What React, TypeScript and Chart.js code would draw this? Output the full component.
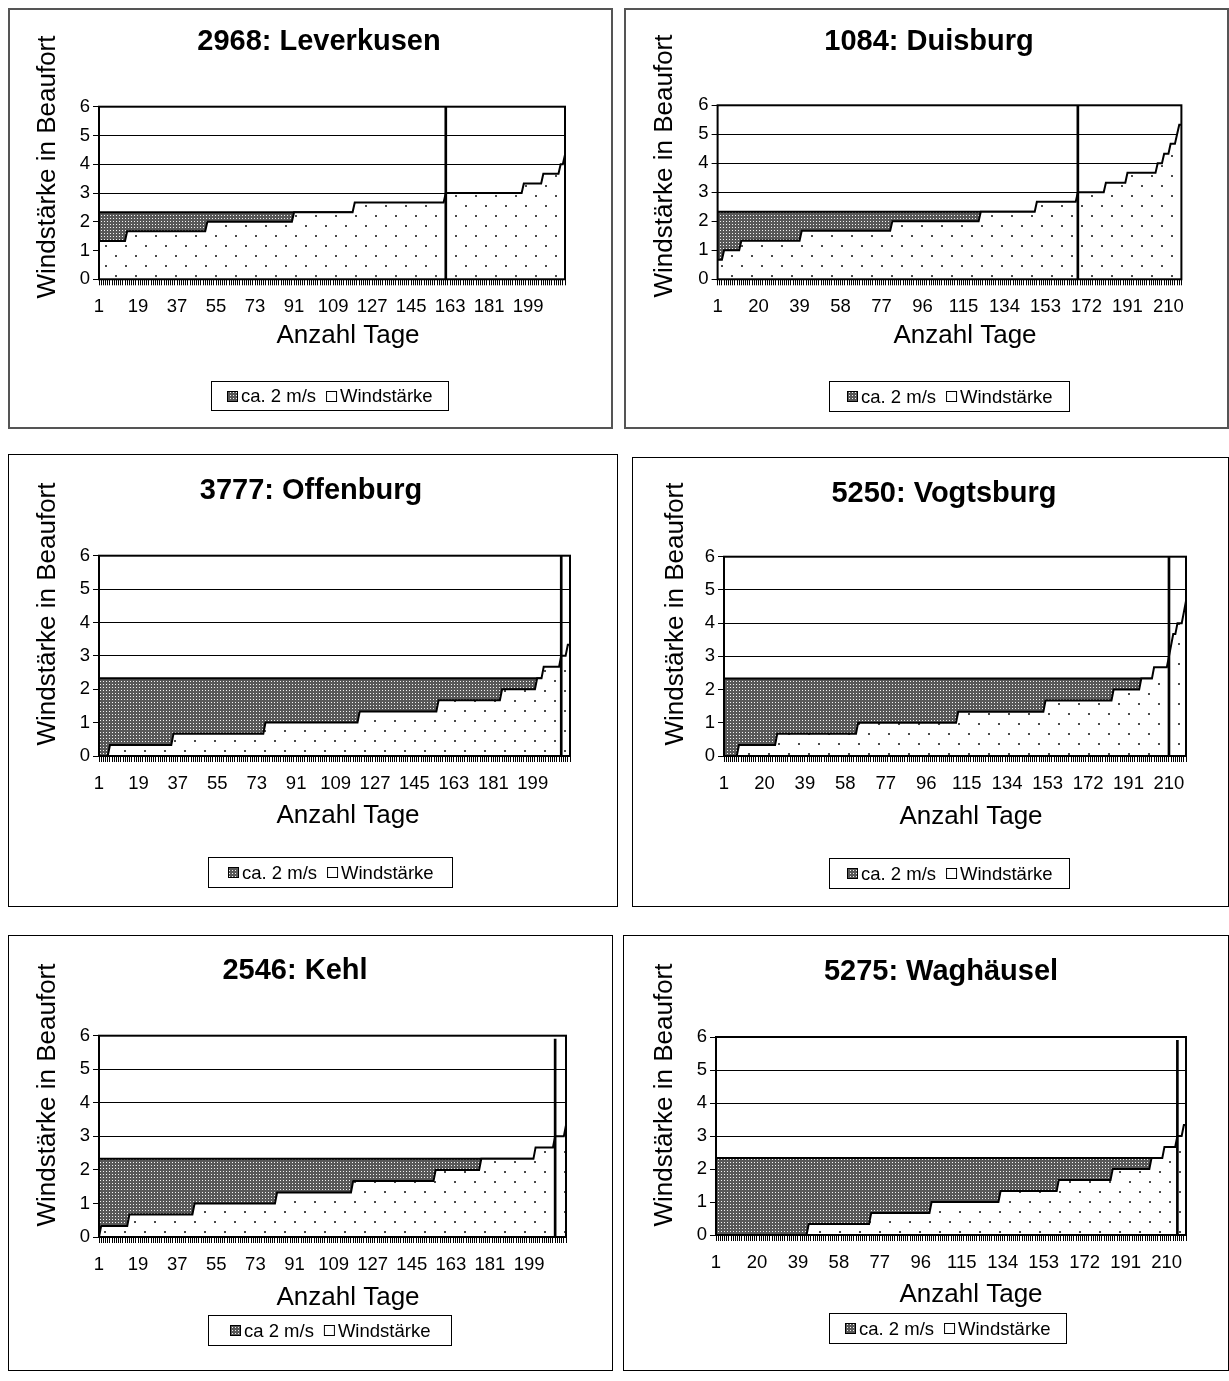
import React, { useEffect, useRef } from 'react';
import { Chart, registerables } from 'chart.js';

Chart.register(...registerables);

const FONT = "'Liberation Sans', Arial, Helvetica, sans-serif";
Chart.defaults.font.family = FONT;
Chart.defaults.color = '#000';

// ---------- shared texts / values ----------
const Y_AXIS_TITLE = 'Windstärke in Beaufort';
const X_AXIS_TITLE = 'Anzahl Tage';
const WIND_LABEL = 'Windstärke';
const Y_MIN = 0;
const Y_MAX = 6;
const CA2_LEVEL = 2.33; // "ca. 2 m/s" threshold in Beaufort

const TICKS_18 = ['1', '19', '37', '55', '73', '91', '109', '127', '145', '163', '181', '199'];
const TICKS_19 = ['1', '20', '39', '58', '77', '96', '115', '134', '153', '172', '191', '210'];

// ---------- 2968: Leverkusen ----------
const LEV_TITLE = '2968: Leverkusen';
const LEV_CA_LABEL = 'ca. 2 m/s';
const LEV_LEVELS = [1.33, 1.67, 2, 2.33, 2.67, 3, 3.33, 3.67, 4, 4.33];
const LEV_DAYS = [13, 37, 40, 28, 42, 36, 9, 8, 2, 1];
const LEV_TICKS = TICKS_18;
const LEV_MARK_DAY = 161;
const LEV_MARK_TOP = 6;

// ---------- 1084: Duisburg ----------
const DUI_TITLE = '1084: Duisburg';
const DUI_CA_LABEL = 'ca. 2 m/s';
const DUI_LEVELS = [0.67, 1, 1.33, 1.67, 2, 2.33, 2.67, 3, 3.33, 3.67, 4, 4.33, 4.67, 5, 5.33];
const DUI_DAYS = [3, 8, 28, 42, 41, 26, 19, 13, 10, 14, 3, 3, 3, 1, 2];
const DUI_TICKS = TICKS_19;
const DUI_MARK_DAY = 168;
const DUI_MARK_TOP = 6;

// ---------- 3777: Offenburg ----------
const OFF_TITLE = '3777: Offenburg';
const OFF_CA_LABEL = 'ca. 2 m/s';
const OFF_LEVELS = [0, 0.33, 0.67, 1, 1.33, 1.67, 2, 2.33, 2.67, 3, 3.33];
const OFF_DAYS = [5, 29, 42, 43, 36, 29, 16, 3, 8, 3, 2];
const OFF_TICKS = TICKS_18;
const OFF_MARK_DAY = 212;
const OFF_MARK_TOP = 6;

// ---------- 5250: Vogtsburg ----------
const VOG_TITLE = '5250: Vogtsburg';
const VOG_CA_LABEL = 'ca. 2 m/s';
const VOG_LEVELS = [0, 0.33, 0.67, 1, 1.33, 1.67, 2, 2.33, 2.67, 3, 3.33, 3.67, 4, 4.33, 4.67];
const VOG_DAYS = [7, 18, 38, 47, 41, 32, 13, 6, 7, 1, 1, 2, 3, 1, 1];
const VOG_TICKS = TICKS_19;
const VOG_MARK_DAY = 210;
const VOG_MARK_TOP = 6;

// ---------- 2546: Kehl ----------
const KEH_TITLE = '2546: Kehl';
const KEH_CA_LABEL = 'ca 2 m/s';
const KEH_LEVELS = [0, 0.33, 0.67, 1, 1.33, 1.67, 2, 2.33, 2.67, 3, 3.33];
const KEH_DAYS = [1, 13, 30, 38, 35, 38, 21, 25, 9, 5, 1];
const KEH_TICKS = TICKS_18;
const KEH_MARK_DAY = 211;
const KEH_MARK_TOP = 5.9;

// ---------- 5275: Waghäusel ----------
const WAG_TITLE = '5275: Waghäusel';
const WAG_CA_LABEL = 'ca. 2 m/s';
const WAG_LEVELS = [0, 0.33, 0.67, 1, 1.33, 1.67, 2, 2.33, 2.67, 3, 3.33];
const WAG_DAYS = [43, 29, 28, 32, 27, 25, 18, 6, 6, 3, 2];
const WAG_TICKS = TICKS_19;
const WAG_MARK_DAY = 215;
const WAG_MARK_TOP = 5.9;

// ---------- layouts (page pixel coordinates) ----------
type Layout = {
  box: number[]; // x, y, w, h (outer)
  border: number;
  borderColor: string;
  plot: number[]; // left, top, right, bottom
  title: number[]; // cx, cy
  yTitle: number[];
  xTitle: number[];
  legend: number[]; // x, y, w, h
};

const LEV_LAYOUT: Layout = { box: [8, 8, 605, 421], border: 2, borderColor: '#555', plot: [99, 106.7, 565, 279.3], title: [319, 41.5], yTitle: [48, 167], xTitle: [348, 335.5], legend: [211, 381, 238, 30] };
const DUI_LAYOUT: Layout = { box: [624, 8, 605, 421], border: 2, borderColor: '#555', plot: [717.6, 105.3, 1181.4, 279.3], title: [929, 41.7], yTitle: [665, 166], xTitle: [965, 336], legend: [829, 381, 241, 31] };
const OFF_LAYOUT: Layout = { box: [8, 454, 610, 453], border: 1, borderColor: '#000', plot: [99, 555.7, 570, 756], title: [311, 491], yTitle: [48, 614], xTitle: [348, 816], legend: [208, 857, 245, 31] };
const VOG_LAYOUT: Layout = { box: [632, 457, 597, 450], border: 1, borderColor: '#000', plot: [724, 556.7, 1186, 756], title: [944, 494], yTitle: [676, 614], xTitle: [971, 817], legend: [829, 858, 241, 31] };
const KEH_LAYOUT: Layout = { box: [8, 935, 605, 436], border: 1, borderColor: '#000', plot: [99, 1035.7, 566, 1237], title: [295, 971], yTitle: [48, 1095], xTitle: [348, 1298], legend: [208, 1315, 244, 31] };
const WAG_LAYOUT: Layout = { box: [623, 935, 606, 436], border: 1, borderColor: '#000', plot: [716, 1037, 1186, 1235], title: [941, 972], yTitle: [665, 1095], xTitle: [971, 1295], legend: [829, 1313, 238, 31] };

type Station = {
  title: string;
  caLabel: string;
  levels: number[];
  days: number[];
  ticks: string[];
  markDay: number;
  markTop: number;
  layout: Layout;
};

const STATIONS: Station[] = [
  { title: LEV_TITLE, caLabel: LEV_CA_LABEL, levels: LEV_LEVELS, days: LEV_DAYS, ticks: LEV_TICKS, markDay: LEV_MARK_DAY, markTop: LEV_MARK_TOP, layout: LEV_LAYOUT },
  { title: DUI_TITLE, caLabel: DUI_CA_LABEL, levels: DUI_LEVELS, days: DUI_DAYS, ticks: DUI_TICKS, markDay: DUI_MARK_DAY, markTop: DUI_MARK_TOP, layout: DUI_LAYOUT },
  { title: OFF_TITLE, caLabel: OFF_CA_LABEL, levels: OFF_LEVELS, days: OFF_DAYS, ticks: OFF_TICKS, markDay: OFF_MARK_DAY, markTop: OFF_MARK_TOP, layout: OFF_LAYOUT },
  { title: VOG_TITLE, caLabel: VOG_CA_LABEL, levels: VOG_LEVELS, days: VOG_DAYS, ticks: VOG_TICKS, markDay: VOG_MARK_DAY, markTop: VOG_MARK_TOP, layout: VOG_LAYOUT },
  { title: KEH_TITLE, caLabel: KEH_CA_LABEL, levels: KEH_LEVELS, days: KEH_DAYS, ticks: KEH_TICKS, markDay: KEH_MARK_DAY, markTop: KEH_MARK_TOP, layout: KEH_LAYOUT },
  { title: WAG_TITLE, caLabel: WAG_CA_LABEL, levels: WAG_LEVELS, days: WAG_DAYS, ticks: WAG_TICKS, markDay: WAG_MARK_DAY, markTop: WAG_MARK_TOP, layout: WAG_LAYOUT },
];

// ---------- helpers ----------
function expandRuns(levels: number[], days: number[]): number[] {
  const out: number[] = [];
  levels.forEach((v, i) => {
    for (let k = 0; k < days[i]; k++) out.push(v);
  });
  return out;
}

function makeDotPattern(ctx: CanvasRenderingContext2D) {
  const c = document.createElement('canvas');
  c.width = 20;
  c.height = 20;
  const g = c.getContext('2d')!;
  g.fillStyle = '#fff';
  g.fillRect(0, 0, 20, 20);
  g.fillStyle = '#4a4a4a';
  g.fillRect(5, 5, 2, 2);
  g.fillRect(15, 15, 2, 2);
  return ctx.createPattern(c, 'repeat')!;
}

function makeCheckerPattern(ctx: CanvasRenderingContext2D) {
  const c = document.createElement('canvas');
  c.width = 3;
  c.height = 3;
  const g = c.getContext('2d')!;
  g.fillStyle = '#585858';
  g.fillRect(0, 0, 3, 3);
  g.fillStyle = '#f4f4f4';
  g.fillRect(1, 1, 1, 1);
  return ctx.createPattern(c, 'repeat')!;
}

function Panel({ st }: { st: Station }) {
  const ref = useRef<HTMLCanvasElement>(null);
  const L = st.layout;
  const [bx, by, bw, bh] = L.box;
  const b = L.border;
  const cw = bw - 2 * b;
  const ch = bh - 2 * b;

  useEffect(() => {
    const canvas = ref.current!;
    const ctx = canvas.getContext('2d')!;
    const ox = bx + b;
    const oy = by + b;
    const left = L.plot[0] - ox;
    const top = L.plot[1] - oy;
    const right = L.plot[2] - ox;
    const bottom = L.plot[3] - oy;
    const XH = 40;
    const TICK_FS = 18.5;
    const TICK_LEN = 6;

    const wind = expandRuns(st.levels, st.days);
    const labels = wind.map((_, i) => String(i + 1));
    const ca = labels.map(() => CA2_LEVEL);
    const mark = labels.map((d) => (Number(d) === st.markDay ? st.markTop : null));
    const tickSet = new Set(st.ticks);

    const dotPat = makeDotPattern(ctx);
    const chkPat = makeCheckerPattern(ctx);

    const borderPlugin = {
      id: 'plotBorder',
      afterDatasetsDraw(chart: any) {
        const a = chart.chartArea;
        const c = chart.ctx;
        c.save();
        c.strokeStyle = '#000';
        c.lineWidth = 2;
        c.strokeRect(a.left, a.top, a.right - a.left, a.bottom - a.top);
        c.restore();
      },
    };

    const decorPlugin = {
      id: 'panelDecor',
      afterDraw(chart: any) {
        const c: CanvasRenderingContext2D = chart.ctx;
        c.save();
        c.fillStyle = '#000';
        c.textAlign = 'center';
        c.textBaseline = 'middle';
        // title
        c.font = `bold 29px ${FONT}`;
        c.fillText(st.title, L.title[0] - ox, L.title[1] - oy);
        // axis titles
        c.font = `26px ${FONT}`;
        c.fillText(X_AXIS_TITLE, L.xTitle[0] - ox, L.xTitle[1] - oy);
        c.save();
        c.translate(L.yTitle[0] - ox, L.yTitle[1] - oy);
        c.rotate(-Math.PI / 2);
        c.fillText(Y_AXIS_TITLE, 0, 0);
        c.restore();
        // legend
        const lx = L.legend[0] - ox;
        const ly = L.legend[1] - oy;
        const lw = L.legend[2];
        const lh = L.legend[3];
        c.lineWidth = 1;
        c.strokeStyle = '#000';
        c.strokeRect(Math.round(lx) + 0.5, Math.round(ly) + 0.5, lw - 1, lh - 1);
        c.font = `18.5px ${FONT}`;
        const t1 = st.caLabel;
        const t2 = WIND_LABEL;
        const w1 = c.measureText(t1).width;
        const w2 = c.measureText(t2).width;
        const SW = 11;
        const G = 3;
        const GAP = 10;
        const total = SW + G + w1 + GAP + SW + G + w2;
        let x = Math.round(lx + (lw - total) / 2);
        const cy = ly + lh / 2;
        const sy = Math.round(cy - SW / 2);
        c.fillStyle = chkPat;
        c.fillRect(x, sy, SW, SW);
        c.strokeRect(x + 0.5, sy + 0.5, SW - 1, SW - 1);
        x += SW + G;
        c.fillStyle = '#000';
        c.textAlign = 'left';
        c.fillText(t1, x, cy + 1);
        x += w1 + GAP;
        c.fillStyle = '#fff';
        c.fillRect(x, sy, SW, SW);
        c.strokeRect(x + 0.5, sy + 0.5, SW - 1, SW - 1);
        x += SW + G;
        c.fillStyle = '#000';
        c.fillText(t2, x, cy + 1);
        c.restore();
      },
    };

    const chart = new Chart(canvas, {
      type: 'line',
      data: {
        labels,
        datasets: [
          {
            type: 'line',
            label: st.caLabel,
            data: ca,
            fill: 'origin',
            backgroundColor: chkPat,
            borderColor: '#000',
            borderWidth: 2,
            pointRadius: 0,
            tension: 0,
            order: 2,
          },
          {
            type: 'line',
            label: WIND_LABEL,
            data: wind,
            fill: 'origin',
            backgroundColor: dotPat,
            borderColor: '#000',
            borderWidth: 2,
            pointRadius: 0,
            tension: 0,
            order: 1,
          },
          {
            type: 'bar',
            label: '3 Bft',
            data: mark,
            backgroundColor: '#000',
            borderWidth: 0,
            barThickness: 2,
            order: 0,
          },
        ] as any,
      },
      options: {
        animation: false,
        responsive: false,
        maintainAspectRatio: false,
        events: [],
        layout: {
          padding: { left: 0, top: top, right: cw - right, bottom: ch - bottom - XH },
        },
        plugins: {
          legend: { display: false },
          title: { display: false },
          tooltip: { enabled: false },
        },
        scales: {
          x: {
            type: 'category',
            position: 'bottom',
            offset: false,
            grid: {
              display: true,
              drawOnChartArea: false,
              drawTicks: true,
              tickLength: TICK_LEN,
              color: '#000',
              lineWidth: 1,
              offset: false,
            },
            border: { display: false },
            ticks: {
              autoSkip: false,
              maxRotation: 0,
              minRotation: 0,
              padding: 28 - TICK_LEN - 0.6 * TICK_FS,
              color: '#000',
              font: { size: TICK_FS, family: FONT },
              callback: (_v: any, index: number) => (tickSet.has(labels[index]) ? labels[index] : ''),
            },
            afterFit: (s: any) => {
              s.height = XH;
            },
          },
          y: {
            type: 'linear',
            position: 'left',
            min: Y_MIN,
            max: Y_MAX,
            grid: {
              display: true,
              drawOnChartArea: true,
              drawTicks: true,
              tickLength: TICK_LEN,
              color: '#000',
              lineWidth: 1,
            },
            border: { display: false },
            ticks: {
              stepSize: 1,
              padding: 3,
              color: '#000',
              font: { size: TICK_FS, family: FONT },
            },
            afterFit: (s: any) => {
              s.width = left;
            },
          },
        },
      } as any,
      plugins: [borderPlugin, decorPlugin],
    });
    return () => chart.destroy();
  }, []);

  return (
    <div
      style={{
        position: 'absolute',
        left: bx,
        top: by,
        width: bw,
        height: bh,
        boxSizing: 'border-box',
        border: `${b}px solid ${L.borderColor}`,
        background: '#fff',
      }}
    >
      <canvas ref={ref} width={cw} height={ch} style={{ display: 'block', width: cw, height: ch }} />
    </div>
  );
}

export default function App() {
  return (
    <div>
      {STATIONS.map((s) => (
        <Panel key={s.title} st={s} />
      ))}
    </div>
  );
}
